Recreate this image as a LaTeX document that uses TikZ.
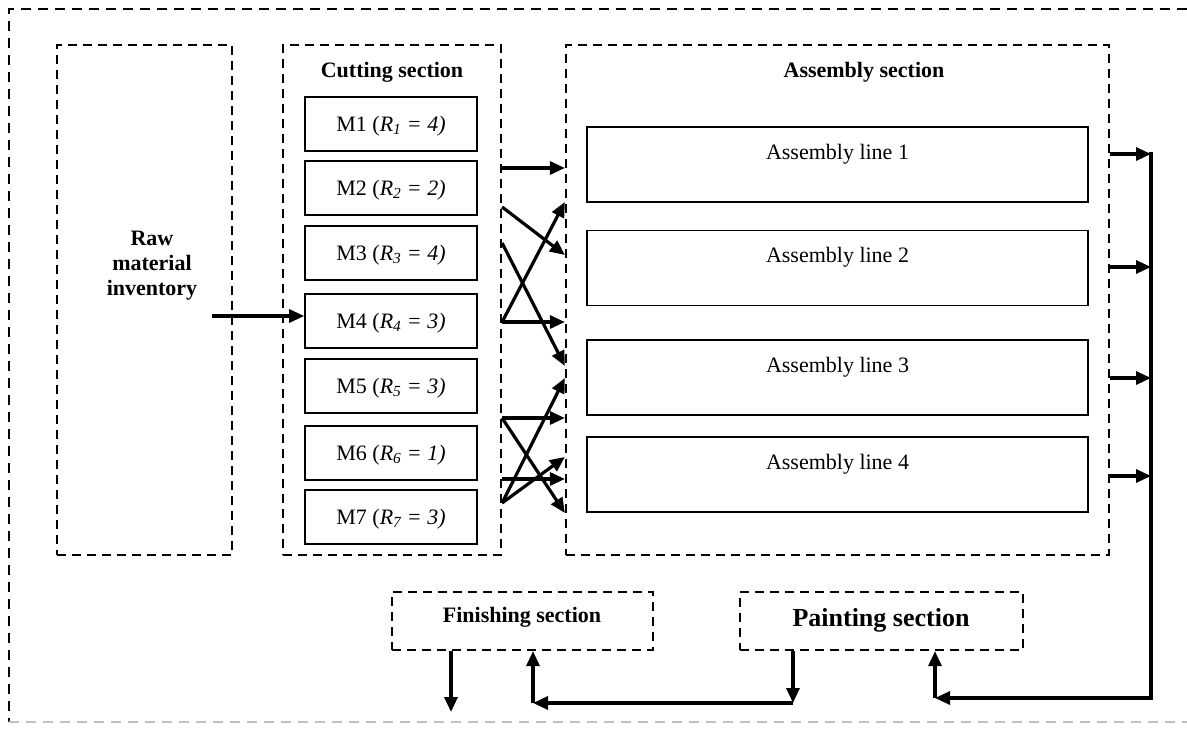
\documentclass[tikz,border=0pt]{standalone}
\usepackage{fontspec}
\setmainfont{Liberation Serif}
\usetikzlibrary{arrows.meta,calc}

\begin{document}
\begin{tikzpicture}[x=1pt,y=-1pt,thick]
	% `section' is used for the dashed area boxes.
	% `flow' is used for the thick arrows between the areas.
	\tikzstyle{section} = [draw,line width=2.2pt,dash pattern=on 9pt off 6pt,inner sep=0pt]
	\tikzstyle{outer} = [line width=2.2pt,dash pattern=on 10pt off 7pt]
	\tikzstyle{machine} = [draw,line width=1.6pt,minimum width=172pt,minimum height=54pt,text depth=1pt,font=\fontsize{22}{25}\selectfont]
	\tikzstyle{assline} = [draw,line width=1.6pt,minimum width=501pt,minimum height=75pt]
	\tikzstyle{plain} = [font=\fontsize{22}{25}\selectfont]
	\tikzstyle{title} = [font=\bfseries\fontsize{22}{25}\selectfont]
	\tikzstyle{flow} = [line width=3.2pt,-{Triangle[length=15pt,width=13pt]}]
	\useasboundingbox (0,0) rectangle (1187,733);
	%
	% Outer border (bottom edge is faint).
	\draw[outer] (1187,9) -- (9,9) -- (9,722);
	\draw[outer,black!25] (9,722) -- (1187,722);
	%
	% Sections.
	\node[section,minimum width=175pt,minimum height=510pt] (raw) at (144.5,300) {};
	\node[section,minimum width=218pt,minimum height=510pt] (cutting) at (392,300) {};
	\node[section,minimum width=543pt,minimum height=510pt] (assembly) at (837.5,300) {};
	\node[section,minimum width=261pt,minimum height=58pt] (finishing) at (522.5,621) {};
	\node[section,minimum width=283pt,minimum height=58pt] (painting) at (881.5,621) {};
	%
	% Titles.
	\node[title,align=center] (rawtext) at (152,266) {Raw\\material\\inventory};
	\node[title] (cuttext) at (392,72) {Cutting section};
	\node[title] (asstext) at (864,72) {Assembly section};
	\node[title] (fintext) at (522,617) {Finishing section};
	\node[font=\bfseries\fontsize{26}{29}\selectfont] (painttext) at (881,620) {Painting section};
	%
	% Machines of the cutting section.
	\foreach \y/\r [count=\i] in {124/4,188/2,253/4,321/3,386/3,453/1,517/3}
		\node[machine] (M\i) at (391,\y) {M\i{} (\textit{R\textsubscript{\i} = \r)}};
	%
	% Assembly lines.
	\foreach \y [count=\i] in {164.5,268,377.5,474.5} {
		\node[assline] (line\i) at (837.5,\y) {};
		\node[plain] (linetext\i) at ([yshift=-28pt]line\i.north) {Assembly line \i};
	}
	%
	% Raw material to M4.
	\coordinate (rawout) at (212,316);
	\draw[flow] (rawout) -- (M4.west |- rawout);
	%
	% Cutting to assembly.
	\foreach \ya/\yb in {168/168,207/255,243/366,322/202,322/322,418/418,418/513,479/479,503/378,503/457}
		\draw[flow] (cutting.east |- 0,\ya) -- (assembly.west |- 0,\yb);
	%
	% Assembly lines to the collector.
	\coordinate (bus) at (1151,154);
	\foreach \y in {154,267,378,476}
		\draw[flow] (assembly.east |- 0,\y) -- (bus |- 0,\y);
	\coordinate (busend) at (1151,698);
	\coordinate (paintin) at (935,698);
	\draw[line width=3.2pt] ([yshift=1.6pt]bus) -- (busend);
	\draw[flow] ([xshift=1.6pt]busend) -- (paintin);
	\draw[flow] (paintin) -- (paintin |- painting.south);
	%
	% Painting back to finishing.
	\coordinate (paintout) at (793,703);
	\coordinate (finin) at (533,703);
	\draw[flow] (paintout |- painting.south) -- (paintout);
	\draw[flow] (paintout) -- (finin);
	\draw[flow] (finin) -- (finin |- finishing.south);
	%
	% Finishing output.
	\coordinate (finout) at (451,712);
	\draw[flow] (finout |- finishing.south) -- (finout);
\end{tikzpicture}
\end{document}
